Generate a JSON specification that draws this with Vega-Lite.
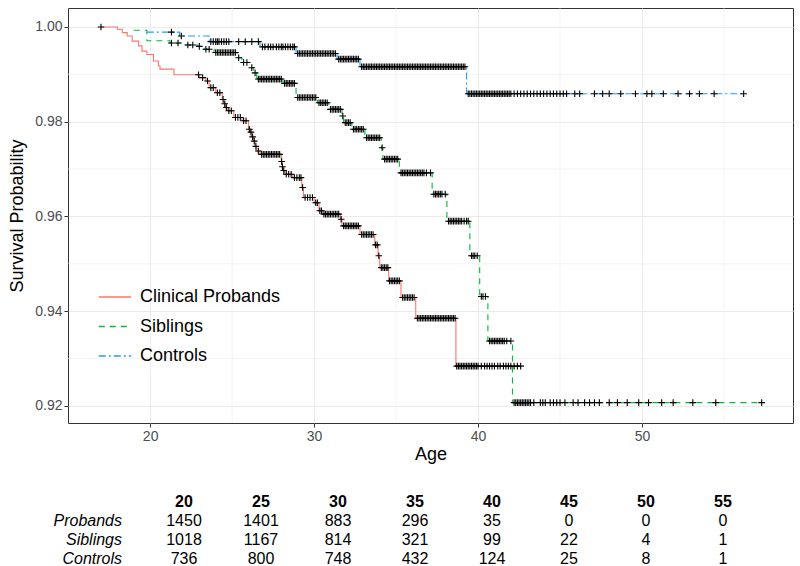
{
  "$schema": "https://vega.github.io/schema/vega-lite/v6.json",
  "padding": {"left": 8, "top": 7, "right": 8, "bottom": 0},
  "background": "white",
  "config": {
    "font": "Liberation Sans",
    "view": {"stroke": "#333333", "strokeWidth": 1}
  },
  "spacing": 28,
  "datasets": {
    "curves": [
      {"g":"Clinical Probands","age":17.0,"surv":1.0},{"g":"Clinical Probands","age":18.0,"surv":0.9995},{"g":"Clinical Probands","age":18.3,"surv":0.9988},{"g":"Clinical Probands","age":18.6,"surv":0.9981},{"g":"Clinical Probands","age":18.9,"surv":0.9970},{"g":"Clinical Probands","age":19.3,"surv":0.9960},{"g":"Clinical Probands","age":19.5,"surv":0.9949},{"g":"Clinical Probands","age":19.8,"surv":0.9942},{"g":"Clinical Probands","age":20.2,"surv":0.9928},{"g":"Clinical Probands","age":20.5,"surv":0.9918},{"g":"Clinical Probands","age":20.6,"surv":0.9911},{"g":"Clinical Probands","age":21.45,"surv":0.9899},{"g":"Clinical Probands","age":23.0,"surv":0.9893},{"g":"Clinical Probands","age":23.4,"surv":0.9886},{"g":"Clinical Probands","age":23.6,"surv":0.9872},{"g":"Clinical Probands","age":24.0,"surv":0.9861},{"g":"Clinical Probands","age":24.4,"surv":0.9847},{"g":"Clinical Probands","age":24.5,"surv":0.9838},{"g":"Clinical Probands","age":24.6,"surv":0.9830},{"g":"Clinical Probands","age":24.7,"surv":0.9823},{"g":"Clinical Probands","age":25.1,"surv":0.9809},{"g":"Clinical Probands","age":25.6,"surv":0.9802},{"g":"Clinical Probands","age":26.0,"surv":0.9784},{"g":"Clinical Probands","age":26.1,"surv":0.9778},{"g":"Clinical Probands","age":26.2,"surv":0.9768},{"g":"Clinical Probands","age":26.3,"surv":0.9759},{"g":"Clinical Probands","age":26.4,"surv":0.9748},{"g":"Clinical Probands","age":26.5,"surv":0.9738},{"g":"Clinical Probands","age":26.7,"surv":0.9731},{"g":"Clinical Probands","age":28.0,"surv":0.9716},{"g":"Clinical Probands","age":28.05,"surv":0.9705},{"g":"Clinical Probands","age":28.1,"surv":0.9697},{"g":"Clinical Probands","age":28.2,"surv":0.9689},{"g":"Clinical Probands","age":28.7,"surv":0.9682},{"g":"Clinical Probands","age":29.25,"surv":0.9661},{"g":"Clinical Probands","age":29.35,"surv":0.9640},{"g":"Clinical Probands","age":30.0,"surv":0.9629},{"g":"Clinical Probands","age":30.3,"surv":0.9612},{"g":"Clinical Probands","age":30.5,"surv":0.9605},{"g":"Clinical Probands","age":31.6,"surv":0.9594},{"g":"Clinical Probands","age":31.7,"surv":0.9580},{"g":"Clinical Probands","age":32.8,"surv":0.9562},{"g":"Clinical Probands","age":33.7,"surv":0.9540},{"g":"Clinical Probands","age":33.9,"surv":0.9517},{"g":"Clinical Probands","age":34.0,"surv":0.9492},{"g":"Clinical Probands","age":34.55,"surv":0.9464},{"g":"Clinical Probands","age":35.3,"surv":0.9429},{"g":"Clinical Probands","age":36.2,"surv":0.9385},{"g":"Clinical Probands","age":38.65,"surv":0.9284},{"g":"Clinical Probands","age":42.6,"surv":0.9284},
      {"g":"Siblings","age":19.0,"surv":0.9993},{"g":"Siblings","age":19.8,"surv":0.9971},{"g":"Siblings","age":21.2,"surv":0.9966},{"g":"Siblings","age":22.1,"surv":0.9962},{"g":"Siblings","age":22.9,"surv":0.9959},{"g":"Siblings","age":23.3,"surv":0.9953},{"g":"Siblings","age":23.9,"surv":0.9946},{"g":"Siblings","age":25.3,"surv":0.9935},{"g":"Siblings","age":25.6,"surv":0.9925},{"g":"Siblings","age":26.1,"surv":0.9914},{"g":"Siblings","age":26.3,"surv":0.9903},{"g":"Siblings","age":26.5,"surv":0.9890},{"g":"Siblings","age":28.1,"surv":0.9881},{"g":"Siblings","age":28.9,"surv":0.9851},{"g":"Siblings","age":30.2,"surv":0.9840},{"g":"Siblings","age":30.9,"surv":0.9826},{"g":"Siblings","age":31.7,"surv":0.9812},{"g":"Siblings","age":31.8,"surv":0.9798},{"g":"Siblings","age":32.3,"surv":0.9784},{"g":"Siblings","age":33.1,"surv":0.9766},{"g":"Siblings","age":34.1,"surv":0.9745},{"g":"Siblings","age":34.2,"surv":0.9721},{"g":"Siblings","age":35.2,"surv":0.9692},{"g":"Siblings","age":37.2,"surv":0.9647},{"g":"Siblings","age":38.1,"surv":0.9590},{"g":"Siblings","age":39.5,"surv":0.9517},{"g":"Siblings","age":40.1,"surv":0.9431},{"g":"Siblings","age":40.6,"surv":0.9337},{"g":"Siblings","age":42.1,"surv":0.9207},{"g":"Siblings","age":57.3,"surv":0.9207},
      {"g":"Controls","age":19.8,"surv":0.9989},{"g":"Controls","age":21.8,"surv":0.9981},{"g":"Controls","age":23.6,"surv":0.9969},{"g":"Controls","age":26.7,"surv":0.9958},{"g":"Controls","age":28.9,"surv":0.9944},{"g":"Controls","age":31.4,"surv":0.9932},{"g":"Controls","age":32.8,"surv":0.9916},{"g":"Controls","age":39.3,"surv":0.9859},{"g":"Controls","age":56.2,"surv":0.9859}
    ],
    "censor": [
      {"g":"P","age":17.0,"surv":1.0},{"g":"P","age":22.95,"surv":0.9899},{"g":"P","age":23.2,"surv":0.9893},{"g":"P","age":23.5,"surv":0.9886},{"g":"P","age":23.7,"surv":0.9872},{"g":"P","age":23.85,"surv":0.9872},{"g":"P","age":24.1,"surv":0.9861},{"g":"P","age":24.25,"surv":0.9861},{"g":"P","age":24.45,"surv":0.9847},{"g":"P","age":24.55,"surv":0.9838},{"g":"P","age":24.65,"surv":0.9830},{"g":"P","age":24.8,"surv":0.9823},{"g":"P","age":24.95,"surv":0.9823},{"g":"P","age":25.2,"surv":0.9809},{"g":"P","age":25.35,"surv":0.9809},{"g":"P","age":25.5,"surv":0.9809},{"g":"P","age":25.7,"surv":0.9802},{"g":"P","age":25.85,"surv":0.9802},{"g":"P","age":26.05,"surv":0.9784},{"g":"P","age":26.15,"surv":0.9778},{"g":"P","age":26.25,"surv":0.9768},{"g":"P","age":26.35,"surv":0.9759},{"g":"P","age":26.45,"surv":0.9748},{"g":"P","age":26.6,"surv":0.9738},
      {"g":"P","age":26.8,"surv":0.9731},{"g":"P","age":26.9,"surv":0.9731},{"g":"P","age":27.0,"surv":0.9731},{"g":"P","age":27.1,"surv":0.9731},{"g":"P","age":27.2,"surv":0.9731},{"g":"P","age":27.3,"surv":0.9731},{"g":"P","age":27.4,"surv":0.9731},{"g":"P","age":27.5,"surv":0.9731},{"g":"P","age":27.6,"surv":0.9731},{"g":"P","age":27.7,"surv":0.9731},{"g":"P","age":27.8,"surv":0.9731},{"g":"P","age":27.9,"surv":0.9731},
      {"g":"P","age":28.02,"surv":0.9716},{"g":"P","age":28.07,"surv":0.9705},{"g":"P","age":28.15,"surv":0.9697},{"g":"P","age":28.3,"surv":0.9689},{"g":"P","age":28.45,"surv":0.9689},{"g":"P","age":28.6,"surv":0.9689},{"g":"P","age":28.8,"surv":0.9682},{"g":"P","age":28.95,"surv":0.9682},{"g":"P","age":29.1,"surv":0.9682},{"g":"P","age":29.2,"surv":0.9682},{"g":"P","age":29.3,"surv":0.9661},{"g":"P","age":29.45,"surv":0.9640},{"g":"P","age":29.6,"surv":0.9640},{"g":"P","age":29.75,"surv":0.9640},{"g":"P","age":29.9,"surv":0.9640},{"g":"P","age":30.1,"surv":0.9629},{"g":"P","age":30.2,"surv":0.9629},{"g":"P","age":30.35,"surv":0.9612},{"g":"P","age":30.45,"surv":0.9612},
      {"g":"P","age":30.6,"surv":0.9605},{"g":"P","age":30.7,"surv":0.9605},{"g":"P","age":30.8,"surv":0.9605},{"g":"P","age":30.9,"surv":0.9605},{"g":"P","age":31.0,"surv":0.9605},{"g":"P","age":31.1,"surv":0.9605},{"g":"P","age":31.2,"surv":0.9605},{"g":"P","age":31.3,"surv":0.9605},{"g":"P","age":31.4,"surv":0.9605},{"g":"P","age":31.5,"surv":0.9605},{"g":"P","age":31.65,"surv":0.9594},
      {"g":"P","age":31.8,"surv":0.9580},{"g":"P","age":31.9,"surv":0.9580},{"g":"P","age":32.0,"surv":0.9580},{"g":"P","age":32.1,"surv":0.9580},{"g":"P","age":32.2,"surv":0.9580},{"g":"P","age":32.3,"surv":0.9580},{"g":"P","age":32.4,"surv":0.9580},{"g":"P","age":32.5,"surv":0.9580},{"g":"P","age":32.6,"surv":0.9580},{"g":"P","age":32.7,"surv":0.9580},
      {"g":"P","age":32.9,"surv":0.9562},{"g":"P","age":33.0,"surv":0.9562},{"g":"P","age":33.1,"surv":0.9562},{"g":"P","age":33.2,"surv":0.9562},{"g":"P","age":33.3,"surv":0.9562},{"g":"P","age":33.4,"surv":0.9562},{"g":"P","age":33.5,"surv":0.9562},{"g":"P","age":33.6,"surv":0.9562},{"g":"P","age":33.75,"surv":0.9540},{"g":"P","age":33.85,"surv":0.9540},{"g":"P","age":33.95,"surv":0.9517},
      {"g":"P","age":34.1,"surv":0.9492},{"g":"P","age":34.2,"surv":0.9492},{"g":"P","age":34.3,"surv":0.9492},{"g":"P","age":34.4,"surv":0.9492},{"g":"P","age":34.5,"surv":0.9492},
      {"g":"P","age":34.6,"surv":0.9464},{"g":"P","age":34.7,"surv":0.9464},{"g":"P","age":34.8,"surv":0.9464},{"g":"P","age":34.9,"surv":0.9464},{"g":"P","age":35.0,"surv":0.9464},{"g":"P","age":35.1,"surv":0.9464},{"g":"P","age":35.2,"surv":0.9464},
      {"g":"P","age":35.4,"surv":0.9429},{"g":"P","age":35.5,"surv":0.9429},{"g":"P","age":35.6,"surv":0.9429},{"g":"P","age":35.7,"surv":0.9429},{"g":"P","age":35.8,"surv":0.9429},{"g":"P","age":35.9,"surv":0.9429},{"g":"P","age":36.0,"surv":0.9429},{"g":"P","age":36.1,"surv":0.9429},
      {"g":"P","age":36.3,"surv":0.9385},{"g":"P","age":36.4,"surv":0.9385},{"g":"P","age":36.5,"surv":0.9385},{"g":"P","age":36.6,"surv":0.9385},{"g":"P","age":36.7,"surv":0.9385},{"g":"P","age":36.8,"surv":0.9385},{"g":"P","age":36.9,"surv":0.9385},{"g":"P","age":37.0,"surv":0.9385},{"g":"P","age":37.1,"surv":0.9385},{"g":"P","age":37.2,"surv":0.9385},{"g":"P","age":37.3,"surv":0.9385},{"g":"P","age":37.4,"surv":0.9385},{"g":"P","age":37.5,"surv":0.9385},{"g":"P","age":37.6,"surv":0.9385},{"g":"P","age":37.7,"surv":0.9385},{"g":"P","age":37.8,"surv":0.9385},{"g":"P","age":37.9,"surv":0.9385},{"g":"P","age":38.0,"surv":0.9385},{"g":"P","age":38.1,"surv":0.9385},{"g":"P","age":38.2,"surv":0.9385},{"g":"P","age":38.3,"surv":0.9385},{"g":"P","age":38.4,"surv":0.9385},{"g":"P","age":38.5,"surv":0.9385},{"g":"P","age":38.6,"surv":0.9385},
      {"g":"P","age":38.7,"surv":0.9284},{"g":"P","age":38.8,"surv":0.9284},{"g":"P","age":38.9,"surv":0.9284},{"g":"P","age":39.0,"surv":0.9284},{"g":"P","age":39.1,"surv":0.9284},{"g":"P","age":39.2,"surv":0.9284},{"g":"P","age":39.3,"surv":0.9284},{"g":"P","age":39.4,"surv":0.9284},{"g":"P","age":39.5,"surv":0.9284},{"g":"P","age":39.6,"surv":0.9284},{"g":"P","age":39.7,"surv":0.9284},{"g":"P","age":39.8,"surv":0.9284},{"g":"P","age":39.9,"surv":0.9284},{"g":"P","age":40.0,"surv":0.9284},{"g":"P","age":40.2,"surv":0.9284},{"g":"P","age":40.4,"surv":0.9284},{"g":"P","age":40.55,"surv":0.9284},{"g":"P","age":40.7,"surv":0.9284},{"g":"P","age":40.85,"surv":0.9284},{"g":"P","age":41.0,"surv":0.9284},{"g":"P","age":41.2,"surv":0.9284},{"g":"P","age":41.35,"surv":0.9284},{"g":"P","age":41.55,"surv":0.9284},{"g":"P","age":41.7,"surv":0.9284},{"g":"P","age":41.85,"surv":0.9284},{"g":"P","age":42.0,"surv":0.9284},{"g":"P","age":42.2,"surv":0.9284},{"g":"P","age":42.4,"surv":0.9284},{"g":"P","age":42.6,"surv":0.9284},
      {"g":"S","age":21.3,"surv":0.9966},{"g":"S","age":21.7,"surv":0.9966},{"g":"S","age":22.3,"surv":0.9962},{"g":"S","age":22.6,"surv":0.9962},{"g":"S","age":23.0,"surv":0.9959},{"g":"S","age":23.4,"surv":0.9953},{"g":"S","age":23.6,"surv":0.9953},
      {"g":"S","age":24.0,"surv":0.9946},{"g":"S","age":24.1,"surv":0.9946},{"g":"S","age":24.2,"surv":0.9946},{"g":"S","age":24.3,"surv":0.9946},{"g":"S","age":24.4,"surv":0.9946},{"g":"S","age":24.5,"surv":0.9946},{"g":"S","age":24.6,"surv":0.9946},{"g":"S","age":24.7,"surv":0.9946},{"g":"S","age":24.8,"surv":0.9946},{"g":"S","age":24.9,"surv":0.9946},{"g":"S","age":25.0,"surv":0.9946},{"g":"S","age":25.1,"surv":0.9946},{"g":"S","age":25.2,"surv":0.9946},
      {"g":"S","age":25.4,"surv":0.9935},{"g":"S","age":25.7,"surv":0.9925},{"g":"S","age":25.9,"surv":0.9925},{"g":"S","age":26.2,"surv":0.9914},{"g":"S","age":26.4,"surv":0.9903},
      {"g":"S","age":26.6,"surv":0.9890},{"g":"S","age":26.7,"surv":0.9890},{"g":"S","age":26.8,"surv":0.9890},{"g":"S","age":26.9,"surv":0.9890},{"g":"S","age":27.0,"surv":0.9890},{"g":"S","age":27.1,"surv":0.9890},{"g":"S","age":27.2,"surv":0.9890},{"g":"S","age":27.3,"surv":0.9890},{"g":"S","age":27.4,"surv":0.9890},{"g":"S","age":27.5,"surv":0.9890},{"g":"S","age":27.6,"surv":0.9890},{"g":"S","age":27.7,"surv":0.9890},{"g":"S","age":27.8,"surv":0.9890},{"g":"S","age":27.9,"surv":0.9890},{"g":"S","age":28.0,"surv":0.9890},
      {"g":"S","age":28.2,"surv":0.9881},{"g":"S","age":28.3,"surv":0.9881},{"g":"S","age":28.4,"surv":0.9881},{"g":"S","age":28.5,"surv":0.9881},{"g":"S","age":28.6,"surv":0.9881},{"g":"S","age":28.7,"surv":0.9881},{"g":"S","age":28.8,"surv":0.9881},
      {"g":"S","age":29.0,"surv":0.9851},{"g":"S","age":29.1,"surv":0.9851},{"g":"S","age":29.2,"surv":0.9851},{"g":"S","age":29.3,"surv":0.9851},{"g":"S","age":29.4,"surv":0.9851},{"g":"S","age":29.5,"surv":0.9851},{"g":"S","age":29.6,"surv":0.9851},{"g":"S","age":29.7,"surv":0.9851},{"g":"S","age":29.8,"surv":0.9851},{"g":"S","age":29.9,"surv":0.9851},{"g":"S","age":30.0,"surv":0.9851},{"g":"S","age":30.1,"surv":0.9851},
      {"g":"S","age":30.3,"surv":0.9840},{"g":"S","age":30.4,"surv":0.9840},{"g":"S","age":30.5,"surv":0.9840},{"g":"S","age":30.6,"surv":0.9840},{"g":"S","age":30.7,"surv":0.9840},{"g":"S","age":30.8,"surv":0.9840},
      {"g":"S","age":31.0,"surv":0.9826},{"g":"S","age":31.1,"surv":0.9826},{"g":"S","age":31.2,"surv":0.9826},{"g":"S","age":31.3,"surv":0.9826},{"g":"S","age":31.4,"surv":0.9826},{"g":"S","age":31.5,"surv":0.9826},{"g":"S","age":31.6,"surv":0.9826},{"g":"S","age":31.75,"surv":0.9812},
      {"g":"S","age":31.9,"surv":0.9798},{"g":"S","age":32.0,"surv":0.9798},{"g":"S","age":32.1,"surv":0.9798},{"g":"S","age":32.2,"surv":0.9798},
      {"g":"S","age":32.4,"surv":0.9784},{"g":"S","age":32.5,"surv":0.9784},{"g":"S","age":32.6,"surv":0.9784},{"g":"S","age":32.7,"surv":0.9784},{"g":"S","age":32.8,"surv":0.9784},{"g":"S","age":32.9,"surv":0.9784},{"g":"S","age":33.0,"surv":0.9784},
      {"g":"S","age":33.2,"surv":0.9766},{"g":"S","age":33.3,"surv":0.9766},{"g":"S","age":33.4,"surv":0.9766},{"g":"S","age":33.5,"surv":0.9766},{"g":"S","age":33.6,"surv":0.9766},{"g":"S","age":33.7,"surv":0.9766},{"g":"S","age":33.8,"surv":0.9766},{"g":"S","age":33.9,"surv":0.9766},{"g":"S","age":34.0,"surv":0.9766},{"g":"S","age":34.15,"surv":0.9745},
      {"g":"S","age":34.3,"surv":0.9721},{"g":"S","age":34.4,"surv":0.9721},{"g":"S","age":34.5,"surv":0.9721},{"g":"S","age":34.6,"surv":0.9721},{"g":"S","age":34.7,"surv":0.9721},{"g":"S","age":34.8,"surv":0.9721},{"g":"S","age":34.9,"surv":0.9721},{"g":"S","age":35.0,"surv":0.9721},{"g":"S","age":35.1,"surv":0.9721},
      {"g":"S","age":35.3,"surv":0.9692},{"g":"S","age":35.4,"surv":0.9692},{"g":"S","age":35.5,"surv":0.9692},{"g":"S","age":35.6,"surv":0.9692},{"g":"S","age":35.7,"surv":0.9692},{"g":"S","age":35.8,"surv":0.9692},{"g":"S","age":35.9,"surv":0.9692},{"g":"S","age":36.0,"surv":0.9692},{"g":"S","age":36.1,"surv":0.9692},{"g":"S","age":36.2,"surv":0.9692},{"g":"S","age":36.3,"surv":0.9692},{"g":"S","age":36.4,"surv":0.9692},{"g":"S","age":36.5,"surv":0.9692},{"g":"S","age":36.6,"surv":0.9692},{"g":"S","age":36.7,"surv":0.9692},{"g":"S","age":36.85,"surv":0.9692},{"g":"S","age":37.1,"surv":0.9692},
      {"g":"S","age":37.3,"surv":0.9647},{"g":"S","age":37.4,"surv":0.9647},{"g":"S","age":37.5,"surv":0.9647},{"g":"S","age":37.6,"surv":0.9647},{"g":"S","age":37.7,"surv":0.9647},{"g":"S","age":37.8,"surv":0.9647},{"g":"S","age":38.0,"surv":0.9647},
      {"g":"S","age":38.2,"surv":0.9590},{"g":"S","age":38.3,"surv":0.9590},{"g":"S","age":38.4,"surv":0.9590},{"g":"S","age":38.5,"surv":0.9590},{"g":"S","age":38.6,"surv":0.9590},{"g":"S","age":38.7,"surv":0.9590},{"g":"S","age":38.8,"surv":0.9590},{"g":"S","age":38.9,"surv":0.9590},{"g":"S","age":39.0,"surv":0.9590},{"g":"S","age":39.15,"surv":0.9590},{"g":"S","age":39.3,"surv":0.9590},{"g":"S","age":39.4,"surv":0.9590},
      {"g":"S","age":39.6,"surv":0.9517},{"g":"S","age":39.7,"surv":0.9517},{"g":"S","age":39.8,"surv":0.9517},{"g":"S","age":39.95,"surv":0.9517},
      {"g":"S","age":40.2,"surv":0.9431},{"g":"S","age":40.3,"surv":0.9431},{"g":"S","age":40.45,"surv":0.9431},
      {"g":"S","age":40.7,"surv":0.9337},{"g":"S","age":40.8,"surv":0.9337},{"g":"S","age":40.9,"surv":0.9337},{"g":"S","age":41.0,"surv":0.9337},{"g":"S","age":41.1,"surv":0.9337},{"g":"S","age":41.2,"surv":0.9337},{"g":"S","age":41.3,"surv":0.9337},{"g":"S","age":41.4,"surv":0.9337},{"g":"S","age":41.5,"surv":0.9337},{"g":"S","age":41.6,"surv":0.9337},{"g":"S","age":41.75,"surv":0.9337},{"g":"S","age":42.0,"surv":0.9337},
      {"g":"S","age":42.2,"surv":0.9207},{"g":"S","age":42.3,"surv":0.9207},{"g":"S","age":42.4,"surv":0.9207},{"g":"S","age":42.5,"surv":0.9207},{"g":"S","age":42.6,"surv":0.9207},{"g":"S","age":42.7,"surv":0.9207},{"g":"S","age":42.8,"surv":0.9207},{"g":"S","age":42.9,"surv":0.9207},{"g":"S","age":43.0,"surv":0.9207},{"g":"S","age":43.1,"surv":0.9207},{"g":"S","age":43.2,"surv":0.9207},{"g":"S","age":43.4,"surv":0.9207},{"g":"S","age":43.8,"surv":0.9207},{"g":"S","age":43.95,"surv":0.9207},{"g":"S","age":44.1,"surv":0.9207},{"g":"S","age":44.4,"surv":0.9207},{"g":"S","age":44.6,"surv":0.9207},{"g":"S","age":44.8,"surv":0.9207},{"g":"S","age":45.0,"surv":0.9207},{"g":"S","age":45.3,"surv":0.9207},{"g":"S","age":45.8,"surv":0.9207},{"g":"S","age":46.1,"surv":0.9207},{"g":"S","age":46.5,"surv":0.9207},{"g":"S","age":46.8,"surv":0.9207},{"g":"S","age":47.1,"surv":0.9207},{"g":"S","age":47.4,"surv":0.9207},{"g":"S","age":48.0,"surv":0.9207},{"g":"S","age":48.5,"surv":0.9207},{"g":"S","age":49.1,"surv":0.9207},{"g":"S","age":49.8,"surv":0.9207},{"g":"S","age":50.4,"surv":0.9207},{"g":"S","age":51.2,"surv":0.9207},{"g":"S","age":51.9,"surv":0.9207},{"g":"S","age":53.1,"surv":0.9207},{"g":"S","age":54.5,"surv":0.9207},{"g":"S","age":57.3,"surv":0.9207},
      {"g":"C","age":21.3,"surv":0.9989},{"g":"C","age":21.9,"surv":0.9981},
      {"g":"C","age":23.7,"surv":0.9969},{"g":"C","age":23.85,"surv":0.9969},{"g":"C","age":24.0,"surv":0.9969},{"g":"C","age":24.1,"surv":0.9969},{"g":"C","age":24.2,"surv":0.9969},{"g":"C","age":24.35,"surv":0.9969},{"g":"C","age":24.5,"surv":0.9969},{"g":"C","age":24.65,"surv":0.9969},{"g":"C","age":24.8,"surv":0.9969},{"g":"C","age":25.4,"surv":0.9969},{"g":"C","age":25.8,"surv":0.9969},{"g":"C","age":26.2,"surv":0.9969},{"g":"C","age":26.6,"surv":0.9969},
      {"g":"C","age":26.85,"surv":0.9958},{"g":"C","age":27.0,"surv":0.9958},{"g":"C","age":27.2,"surv":0.9958},{"g":"C","age":27.35,"surv":0.9958},{"g":"C","age":27.5,"surv":0.9958},{"g":"C","age":27.7,"surv":0.9958},{"g":"C","age":27.85,"surv":0.9958},{"g":"C","age":28.0,"surv":0.9958},{"g":"C","age":28.1,"surv":0.9958},{"g":"C","age":28.25,"surv":0.9958},{"g":"C","age":28.4,"surv":0.9958},{"g":"C","age":28.55,"surv":0.9958},{"g":"C","age":28.7,"surv":0.9958},{"g":"C","age":28.8,"surv":0.9958},
      {"g":"C","age":29.0,"surv":0.9944},{"g":"C","age":29.1,"surv":0.9944},{"g":"C","age":29.2,"surv":0.9944},{"g":"C","age":29.3,"surv":0.9944},{"g":"C","age":29.4,"surv":0.9944},{"g":"C","age":29.5,"surv":0.9944},{"g":"C","age":29.6,"surv":0.9944},{"g":"C","age":29.7,"surv":0.9944},{"g":"C","age":29.8,"surv":0.9944},{"g":"C","age":29.9,"surv":0.9944},{"g":"C","age":30.0,"surv":0.9944},{"g":"C","age":30.1,"surv":0.9944},{"g":"C","age":30.2,"surv":0.9944},{"g":"C","age":30.3,"surv":0.9944},{"g":"C","age":30.4,"surv":0.9944},{"g":"C","age":30.5,"surv":0.9944},{"g":"C","age":30.6,"surv":0.9944},{"g":"C","age":30.7,"surv":0.9944},{"g":"C","age":30.8,"surv":0.9944},{"g":"C","age":30.9,"surv":0.9944},{"g":"C","age":31.0,"surv":0.9944},{"g":"C","age":31.1,"surv":0.9944},{"g":"C","age":31.2,"surv":0.9944},{"g":"C","age":31.3,"surv":0.9944},
      {"g":"C","age":31.5,"surv":0.9932},{"g":"C","age":31.6,"surv":0.9932},{"g":"C","age":31.7,"surv":0.9932},{"g":"C","age":31.8,"surv":0.9932},{"g":"C","age":31.9,"surv":0.9932},{"g":"C","age":32.0,"surv":0.9932},{"g":"C","age":32.1,"surv":0.9932},{"g":"C","age":32.2,"surv":0.9932},{"g":"C","age":32.3,"surv":0.9932},{"g":"C","age":32.4,"surv":0.9932},{"g":"C","age":32.5,"surv":0.9932},{"g":"C","age":32.6,"surv":0.9932},{"g":"C","age":32.7,"surv":0.9932},
      {"g":"C","age":32.9,"surv":0.9916},{"g":"C","age":33.0,"surv":0.9916},{"g":"C","age":33.1,"surv":0.9916},{"g":"C","age":33.2,"surv":0.9916},{"g":"C","age":33.3,"surv":0.9916},{"g":"C","age":33.4,"surv":0.9916},{"g":"C","age":33.5,"surv":0.9916},{"g":"C","age":33.6,"surv":0.9916},{"g":"C","age":33.7,"surv":0.9916},{"g":"C","age":33.8,"surv":0.9916},{"g":"C","age":33.9,"surv":0.9916},{"g":"C","age":34.0,"surv":0.9916},{"g":"C","age":34.1,"surv":0.9916},{"g":"C","age":34.2,"surv":0.9916},{"g":"C","age":34.3,"surv":0.9916},{"g":"C","age":34.4,"surv":0.9916},{"g":"C","age":34.5,"surv":0.9916},{"g":"C","age":34.6,"surv":0.9916},{"g":"C","age":34.7,"surv":0.9916},{"g":"C","age":34.8,"surv":0.9916},{"g":"C","age":34.9,"surv":0.9916},{"g":"C","age":35.0,"surv":0.9916},{"g":"C","age":35.1,"surv":0.9916},{"g":"C","age":35.2,"surv":0.9916},{"g":"C","age":35.3,"surv":0.9916},{"g":"C","age":35.4,"surv":0.9916},{"g":"C","age":35.5,"surv":0.9916},{"g":"C","age":35.6,"surv":0.9916},{"g":"C","age":35.7,"surv":0.9916},{"g":"C","age":35.8,"surv":0.9916},{"g":"C","age":35.9,"surv":0.9916},{"g":"C","age":36.0,"surv":0.9916},{"g":"C","age":36.1,"surv":0.9916},{"g":"C","age":36.2,"surv":0.9916},{"g":"C","age":36.3,"surv":0.9916},{"g":"C","age":36.4,"surv":0.9916},{"g":"C","age":36.5,"surv":0.9916},{"g":"C","age":36.6,"surv":0.9916},{"g":"C","age":36.7,"surv":0.9916},{"g":"C","age":36.8,"surv":0.9916},{"g":"C","age":36.9,"surv":0.9916},{"g":"C","age":37.0,"surv":0.9916},{"g":"C","age":37.1,"surv":0.9916},{"g":"C","age":37.2,"surv":0.9916},{"g":"C","age":37.3,"surv":0.9916},{"g":"C","age":37.4,"surv":0.9916},{"g":"C","age":37.5,"surv":0.9916},{"g":"C","age":37.6,"surv":0.9916},{"g":"C","age":37.7,"surv":0.9916},{"g":"C","age":37.8,"surv":0.9916},{"g":"C","age":37.9,"surv":0.9916},{"g":"C","age":38.0,"surv":0.9916},{"g":"C","age":38.1,"surv":0.9916},{"g":"C","age":38.2,"surv":0.9916},{"g":"C","age":38.3,"surv":0.9916},{"g":"C","age":38.4,"surv":0.9916},{"g":"C","age":38.5,"surv":0.9916},{"g":"C","age":38.6,"surv":0.9916},{"g":"C","age":38.7,"surv":0.9916},{"g":"C","age":38.8,"surv":0.9916},{"g":"C","age":38.9,"surv":0.9916},{"g":"C","age":39.0,"surv":0.9916},{"g":"C","age":39.1,"surv":0.9916},{"g":"C","age":39.2,"surv":0.9916},
      {"g":"C","age":39.4,"surv":0.9859},{"g":"C","age":39.5,"surv":0.9859},{"g":"C","age":39.6,"surv":0.9859},{"g":"C","age":39.7,"surv":0.9859},{"g":"C","age":39.8,"surv":0.9859},{"g":"C","age":39.9,"surv":0.9859},{"g":"C","age":40.0,"surv":0.9859},{"g":"C","age":40.1,"surv":0.9859},{"g":"C","age":40.2,"surv":0.9859},{"g":"C","age":40.3,"surv":0.9859},{"g":"C","age":40.4,"surv":0.9859},{"g":"C","age":40.5,"surv":0.9859},{"g":"C","age":40.6,"surv":0.9859},{"g":"C","age":40.7,"surv":0.9859},{"g":"C","age":40.8,"surv":0.9859},{"g":"C","age":40.9,"surv":0.9859},{"g":"C","age":41.0,"surv":0.9859},{"g":"C","age":41.1,"surv":0.9859},{"g":"C","age":41.2,"surv":0.9859},{"g":"C","age":41.3,"surv":0.9859},{"g":"C","age":41.4,"surv":0.9859},{"g":"C","age":41.5,"surv":0.9859},{"g":"C","age":41.6,"surv":0.9859},{"g":"C","age":41.7,"surv":0.9859},{"g":"C","age":41.8,"surv":0.9859},{"g":"C","age":41.9,"surv":0.9859},{"g":"C","age":42.0,"surv":0.9859},
      {"g":"C","age":42.2,"surv":0.9859},{"g":"C","age":42.4,"surv":0.9859},{"g":"C","age":42.6,"surv":0.9859},{"g":"C","age":42.8,"surv":0.9859},{"g":"C","age":43.0,"surv":0.9859},{"g":"C","age":43.2,"surv":0.9859},{"g":"C","age":43.4,"surv":0.9859},{"g":"C","age":43.6,"surv":0.9859},{"g":"C","age":43.8,"surv":0.9859},{"g":"C","age":44.0,"surv":0.9859},{"g":"C","age":44.2,"surv":0.9859},{"g":"C","age":44.4,"surv":0.9859},{"g":"C","age":44.6,"surv":0.9859},{"g":"C","age":44.8,"surv":0.9859},{"g":"C","age":45.0,"surv":0.9859},{"g":"C","age":45.2,"surv":0.9859},
      {"g":"C","age":45.4,"surv":0.9859},{"g":"C","age":45.9,"surv":0.9859},{"g":"C","age":46.2,"surv":0.9859},{"g":"C","age":47.1,"surv":0.9859},{"g":"C","age":47.6,"surv":0.9859},{"g":"C","age":48.0,"surv":0.9859},{"g":"C","age":48.7,"surv":0.9859},{"g":"C","age":49.6,"surv":0.9859},{"g":"C","age":50.3,"surv":0.9859},{"g":"C","age":50.6,"surv":0.9859},{"g":"C","age":51.3,"surv":0.9859},{"g":"C","age":52.2,"surv":0.9859},{"g":"C","age":52.9,"surv":0.9859},{"g":"C","age":53.5,"surv":0.9859},{"g":"C","age":54.4,"surv":0.9859},{"g":"C","age":56.2,"surv":0.9859}
    ],
    "minorx": [{"age":25},{"age":35},{"age":45},{"age":55}],
    "minory": [{"surv":0.93},{"surv":0.95},{"surv":0.97},{"surv":0.99}],
    "table": [
      {"row":"head","col":"20","txt":"20","kind":"head"},{"row":"head","col":"25","txt":"25","kind":"head"},{"row":"head","col":"30","txt":"30","kind":"head"},{"row":"head","col":"35","txt":"35","kind":"head"},{"row":"head","col":"40","txt":"40","kind":"head"},{"row":"head","col":"45","txt":"45","kind":"head"},{"row":"head","col":"50","txt":"50","kind":"head"},{"row":"head","col":"55","txt":"55","kind":"head"},
      {"row":"Probands","col":"lab","txt":"Probands","kind":"lab"},{"row":"Siblings","col":"lab","txt":"Siblings","kind":"lab"},{"row":"Controls","col":"lab","txt":"Controls","kind":"lab"},
      {"row":"Probands","col":"20","txt":"1450","kind":"num"},{"row":"Probands","col":"25","txt":"1401","kind":"num"},{"row":"Probands","col":"30","txt":"883","kind":"num"},{"row":"Probands","col":"35","txt":"296","kind":"num"},{"row":"Probands","col":"40","txt":"35","kind":"num"},{"row":"Probands","col":"45","txt":"0","kind":"num"},{"row":"Probands","col":"50","txt":"0","kind":"num"},{"row":"Probands","col":"55","txt":"0","kind":"num"},
      {"row":"Siblings","col":"20","txt":"1018","kind":"num"},{"row":"Siblings","col":"25","txt":"1167","kind":"num"},{"row":"Siblings","col":"30","txt":"814","kind":"num"},{"row":"Siblings","col":"35","txt":"321","kind":"num"},{"row":"Siblings","col":"40","txt":"99","kind":"num"},{"row":"Siblings","col":"45","txt":"22","kind":"num"},{"row":"Siblings","col":"50","txt":"4","kind":"num"},{"row":"Siblings","col":"55","txt":"1","kind":"num"},
      {"row":"Controls","col":"20","txt":"736","kind":"num"},{"row":"Controls","col":"25","txt":"800","kind":"num"},{"row":"Controls","col":"30","txt":"748","kind":"num"},{"row":"Controls","col":"35","txt":"432","kind":"num"},{"row":"Controls","col":"40","txt":"124","kind":"num"},{"row":"Controls","col":"45","txt":"25","kind":"num"},{"row":"Controls","col":"50","txt":"8","kind":"num"},{"row":"Controls","col":"55","txt":"1","kind":"num"}
    ]
  },
  "vconcat": [
    {
      "width": 725,
      "height": 415,
      "layer": [
        {
          "data": {"name": "minorx"},
          "mark": {"type": "rule", "color": "#EBEBEB", "strokeWidth": 0.6},
          "encoding": {"x": {"field": "age", "type": "quantitative"}}
        },
        {
          "data": {"name": "minory"},
          "mark": {"type": "rule", "color": "#EBEBEB", "strokeWidth": 0.6},
          "encoding": {"y": {"field": "surv", "type": "quantitative"}}
        },
        {
          "data": {"name": "curves"},
          "mark": {"type": "line", "interpolate": "step-after", "strokeWidth": 1.1},
          "encoding": {
            "x": {
              "field": "age", "type": "quantitative",
              "scale": {"domain": [14.99, 59.21], "nice": false, "zero": false},
              "axis": {"title": "Age", "values": [20, 30, 40, 50], "format": "d", "domain": false, "grid": true, "gridColor": "#EBEBEB", "gridWidth": 1, "tickColor": "#333333", "tickSize": 4, "labelPadding": 2, "labelFontSize": 14, "labelColor": "#4D4D4D", "titleFontSize": 18, "titleFontWeight": "normal", "titleColor": "black", "titlePadding": 2}
            },
            "y": {
              "field": "surv", "type": "quantitative",
              "scale": {"domain": [0.9164, 1.004], "nice": false, "zero": false},
              "axis": {"title": "Survival Probability", "values": [0.92, 0.94, 0.96, 0.98, 1.0], "format": ".2f", "domain": false, "grid": true, "gridColor": "#EBEBEB", "gridWidth": 1, "tickColor": "#333333", "tickSize": 4, "labelPadding": 2, "labelFontSize": 14, "labelColor": "#4D4D4D", "titleFontSize": 18, "titleFontWeight": "normal", "titleColor": "black", "titlePadding": 8}
            },
            "color": {
              "field": "g", "type": "nominal",
              "scale": {"domain": ["Clinical Probands", "Siblings", "Controls"], "range": ["#F8766D", "#00BA38", "#1E9BFF"]},
              "legend": {"title": null, "orient": "none", "legendX": 30, "legendY": 272, "symbolType": "stroke", "symbolSize": 1050, "symbolStrokeWidth": 1.3, "labelFontSize": 18, "labelColor": "black", "labelOffset": 8, "rowPadding": 3.5, "padding": 0}
            },
            "strokeDash": {
              "field": "g", "type": "nominal",
              "scale": {"domain": ["Clinical Probands", "Siblings", "Controls"], "range": [[1, 0], [6, 5], [7, 3, 2, 3]]},
              "legend": {"title": null, "orient": "none", "legendX": 30, "legendY": 272, "symbolType": "stroke", "symbolSize": 1050, "symbolStrokeWidth": 1.3, "labelFontSize": 18, "labelColor": "black", "labelOffset": 8, "rowPadding": 3.5, "padding": 0}
            }
          }
        },
        {
          "data": {"name": "censor"},
          "mark": {"type": "point", "shape": "M-1,0H1M0,-1V1", "filled": false, "stroke": "black", "strokeWidth": 1.1, "opacity": 1, "size": 44},
          "encoding": {
            "x": {"field": "age", "type": "quantitative"},
            "y": {"field": "surv", "type": "quantitative"}
          }
        }
      ]
    },
    {
      "width": 725,
      "height": 76,
      "view": {"stroke": null},
      "data": {"name": "table"},
      "encoding": {
        "x": {"field": "col", "type": "ordinal", "scale": {"type": "point", "domain": ["lab", "20", "25", "30", "35", "40", "45", "50", "55"], "range": [39, 655], "padding": 0}, "axis": null},
        "y": {"field": "row", "type": "ordinal", "scale": {"type": "point", "domain": ["head", "Probands", "Siblings", "Controls"], "padding": 0.5}, "axis": null},
        "text": {"field": "txt", "type": "nominal"}
      },
      "layer": [
        {"transform": [{"filter": "datum.kind == 'head'"}], "mark": {"type": "text", "font": "Liberation Sans", "fontSize": 16, "fontWeight": "bold", "baseline": "middle", "color": "black"}},
        {"transform": [{"filter": "datum.kind == 'num'"}], "mark": {"type": "text", "font": "Liberation Sans", "fontSize": 16, "baseline": "middle", "color": "black"}},
        {"transform": [{"filter": "datum.kind == 'lab'"}], "mark": {"type": "text", "font": "Liberation Sans", "fontSize": 16, "fontStyle": "italic", "align": "right", "dx": 15, "baseline": "middle", "color": "black"}}
      ]
    }
  ]
}
